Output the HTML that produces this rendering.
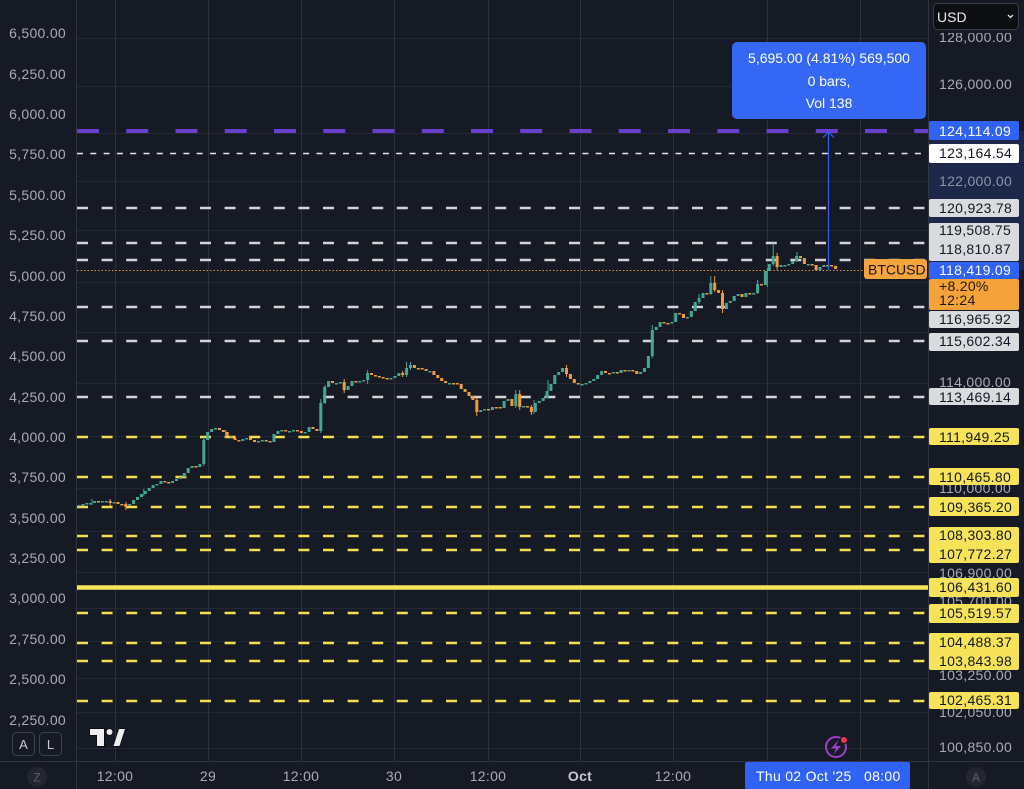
<!DOCTYPE html>
<html><head><meta charset="utf-8"><style>
html,body{margin:0;padding:0;background:#161a25;overflow:hidden;}
svg{display:block;}
text{font-family:"Liberation Sans",sans-serif;}
</style></head><body>
<svg width="1024" height="789" viewBox="0 0 1024 789" xmlns="http://www.w3.org/2000/svg">
<rect width="1024" height="789" fill="#161a25"/>
<!-- navy band on price axis -->
<rect x="929" y="131" width="95" height="139" fill="#1c2749"/>
<!-- horizontal grid -->
<g stroke="#242834" stroke-width="1">
<line x1="77" x2="928" y1="38.5" y2="38.5"/><line x1="77" x2="928" y1="86.5" y2="86.5"/>
<line x1="77" x2="928" y1="133.5" y2="133.5"/><line x1="77" x2="928" y1="181.5" y2="181.5"/>
<line x1="77" x2="928" y1="230.5" y2="230.5"/><line x1="77" x2="928" y1="282.5" y2="282.5"/>
<line x1="77" x2="928" y1="332.5" y2="332.5"/><line x1="77" x2="928" y1="383.5" y2="383.5"/>
<line x1="77" x2="928" y1="436.5" y2="436.5"/><line x1="77" x2="928" y1="488.5" y2="488.5"/>
<line x1="77" x2="928" y1="531.5" y2="531.5"/><line x1="77" x2="928" y1="572.5" y2="572.5"/>
<line x1="77" x2="928" y1="608.5" y2="608.5"/><line x1="77" x2="928" y1="641.5" y2="641.5"/>
<line x1="77" x2="928" y1="678.5" y2="678.5"/><line x1="77" x2="928" y1="712.5" y2="712.5"/>
<line x1="77" x2="928" y1="748.5" y2="748.5"/>
</g>
<!-- vertical grid -->
<g stroke="#2d313c" stroke-width="1">
<line x1="115.5" x2="115.5" y1="0" y2="761"/><line x1="208.5" x2="208.5" y1="0" y2="761"/>
<line x1="301.5" x2="301.5" y1="0" y2="761"/><line x1="394.5" x2="394.5" y1="0" y2="761"/>
<line x1="488.5" x2="488.5" y1="0" y2="761"/><line x1="580.5" x2="580.5" y1="0" y2="761"/>
<line x1="673.5" x2="673.5" y1="0" y2="761"/><line x1="767.5" x2="767.5" y1="0" y2="761"/>
<line x1="860.5" x2="860.5" y1="0" y2="761"/>
</g>
<!-- borders -->
<g stroke="#30343f" stroke-width="1">
<line x1="76.5" x2="76.5" y1="0" y2="789"/>
<line x1="928.5" x2="928.5" y1="0" y2="789"/>
<line x1="0" x2="1024" y1="761.5" y2="761.5"/>
</g>

<!-- price level lines -->
<line x1="77" x2="928" y1="131" y2="131" stroke="#6a3fcc" stroke-width="4" stroke-dasharray="22 27.25"/>
<line x1="77" x2="928" y1="153.5" y2="153.5" stroke="#e6e6e6" stroke-width="1.5" stroke-dasharray="6 7.3"/>
<g stroke="#d4d4d6" stroke-width="2.5" stroke-dasharray="11 13.6">
<line x1="77" x2="928" y1="208" y2="208"/><line x1="77" x2="928" y1="243" y2="243"/>
<line x1="77" x2="928" y1="260" y2="260"/><line x1="77" x2="928" y1="307" y2="307"/>
<line x1="77" x2="928" y1="341" y2="341"/><line x1="77" x2="928" y1="397" y2="397"/>
</g>
<g stroke="#f3df4f" stroke-width="2.5" stroke-dasharray="11 13.6">
<line x1="77" x2="928" y1="437" y2="437"/><line x1="77" x2="928" y1="477" y2="477"/>
<line x1="77" x2="928" y1="507" y2="507"/><line x1="77" x2="928" y1="536" y2="536"/>
<line x1="77" x2="928" y1="550" y2="550"/><line x1="77" x2="928" y1="613" y2="613"/>
<line x1="77" x2="928" y1="643" y2="643"/><line x1="77" x2="928" y1="661" y2="661"/>
<line x1="77" x2="928" y1="701" y2="701"/>
</g>
<line x1="77" x2="928" y1="587.5" y2="587.5" stroke="#f7e45a" stroke-width="4.5"/>
<line x1="77" x2="864" y1="270.5" y2="270.5" stroke="#e0933a" stroke-width="1" stroke-dasharray="1.5 2"/>

<!-- wicks -->
<path fill="none" stroke="#45a596" stroke-width="1" d="M203.8 437V466M320.8 399V433M652.3 325V358M710.8 276V295M773.2 243V266M406.6 362V377M515.8 390V408M367.6 370V384M325 385V404M699 294V304M767.4 268V287M797 252V262M757.6 280V294M548 380V393M143.8 489V496M92 499V505M410.5 362V370M534 400V414"/>
<path fill="none" stroke="#ef9c3c" stroke-width="1" d="M519.7 390V410M476.8 398V416M344.2 379V393M722.5 290V313M777.1 253V270M566.5 365V377M714.7 276V292M531.4 405V415M126 502V510M225.7 430V438M110.2 499V506M402.7 371V377"/>

<!-- green candles -->
<g fill="#45a596">
<rect x="77.5" y="505" width="3" height="1.5"/><rect x="81.4" y="504" width="3" height="1.5"/><rect x="85.3" y="503" width="3" height="1.5"/><rect x="89.2" y="503" width="3" height="1.5"/><rect x="93.1" y="501" width="3" height="2"/><rect x="100.9" y="501" width="3" height="1.5"/><rect x="104.8" y="501" width="3" height="1.5"/><rect x="112.6" y="502" width="3" height="1.5"/><rect x="128.2" y="504" width="3" height="2"/><rect x="132.1" y="500" width="3" height="4"/><rect x="136" y="497" width="3" height="3"/><rect x="139.9" y="494" width="3" height="3"/><rect x="143.8" y="491" width="3" height="3"/><rect x="147.7" y="488" width="3" height="3"/><rect x="151.6" y="485" width="3" height="3"/><rect x="155.5" y="484" width="3" height="1.5"/><rect x="159.4" y="481" width="3" height="3"/><rect x="171.1" y="481" width="3" height="2"/><rect x="175" y="479" width="3" height="2"/><rect x="178.9" y="477" width="3" height="2"/><rect x="182.8" y="473" width="3" height="4"/><rect x="186.7" y="468" width="3" height="5"/><rect x="190.6" y="466" width="3" height="2"/><rect x="198.4" y="464" width="3" height="3"/><rect x="202.3" y="440" width="3" height="24"/><rect x="206.2" y="432" width="3" height="8"/><rect x="210.1" y="429" width="3" height="3"/><rect x="214" y="428" width="3" height="1.5"/><rect x="241.3" y="439" width="3" height="2"/><rect x="245.2" y="438" width="3" height="1.5"/><rect x="256.9" y="441" width="3" height="1.5"/><rect x="260.8" y="440" width="3" height="1.5"/><rect x="272.5" y="434" width="3" height="8"/><rect x="276.4" y="431" width="3" height="3"/><rect x="280.3" y="430" width="3" height="1.5"/><rect x="288.1" y="431" width="3" height="1.5"/><rect x="292" y="430" width="3" height="1.5"/><rect x="303.7" y="432" width="3" height="1.5"/><rect x="307.6" y="427" width="3" height="5"/><rect x="319.3" y="403" width="3" height="28"/><rect x="323.2" y="387" width="3" height="16"/><rect x="327.1" y="381" width="3" height="6"/><rect x="334.9" y="383" width="3" height="1.5"/><rect x="338.8" y="382" width="3" height="1.5"/><rect x="346.6" y="386" width="3" height="4"/><rect x="350.5" y="381" width="3" height="5"/><rect x="358.3" y="381" width="3" height="1.5"/><rect x="362.2" y="380" width="3" height="1.5"/><rect x="366.1" y="373" width="3" height="7"/><rect x="389.5" y="378" width="3" height="1.5"/><rect x="393.4" y="376" width="3" height="2"/><rect x="397.3" y="373" width="3" height="3"/><rect x="405.1" y="368" width="3" height="7"/><rect x="409" y="365" width="3" height="3"/><rect x="428.5" y="371" width="3" height="1.5"/><rect x="448" y="383" width="3" height="1.5"/><rect x="479.2" y="410" width="3" height="2"/><rect x="483.1" y="409" width="3" height="1.5"/><rect x="490.9" y="407" width="3" height="3"/><rect x="502.6" y="401" width="3" height="7"/><rect x="506.5" y="399" width="3" height="2"/><rect x="514.3" y="394" width="3" height="12"/><rect x="522.1" y="406" width="3" height="1.5"/><rect x="533.8" y="403" width="3" height="9"/><rect x="537.7" y="401" width="3" height="2"/><rect x="541.6" y="398" width="3" height="3"/><rect x="545.5" y="391" width="3" height="7"/><rect x="549.4" y="384" width="3" height="7"/><rect x="553.3" y="375" width="3" height="9"/><rect x="557.2" y="372" width="3" height="3"/><rect x="561.1" y="368" width="3" height="4"/><rect x="580.6" y="384" width="3" height="1.5"/><rect x="584.5" y="383" width="3" height="1.5"/><rect x="588.4" y="381" width="3" height="2"/><rect x="592.3" y="379" width="3" height="2"/><rect x="596.2" y="375" width="3" height="4"/><rect x="600.1" y="371" width="3" height="4"/><rect x="611.8" y="372" width="3" height="1.5"/><rect x="619.6" y="370" width="3" height="3"/><rect x="627.4" y="370" width="3" height="1.5"/><rect x="639.1" y="372" width="3" height="2"/><rect x="643" y="368" width="3" height="4"/><rect x="646.9" y="356" width="3" height="12"/><rect x="650.8" y="330" width="3" height="26"/><rect x="654.7" y="327" width="3" height="3"/><rect x="658.6" y="322" width="3" height="5"/><rect x="670.3" y="322" width="3" height="1.5"/><rect x="674.2" y="313" width="3" height="9"/><rect x="685.9" y="317" width="3" height="1.5"/><rect x="689.8" y="311" width="3" height="6"/><rect x="693.7" y="302" width="3" height="9"/><rect x="697.6" y="298" width="3" height="4"/><rect x="701.5" y="293" width="3" height="5"/><rect x="709.3" y="283" width="3" height="11"/><rect x="724.9" y="303" width="3" height="6"/><rect x="728.8" y="301" width="3" height="2"/><rect x="732.7" y="296" width="3" height="5"/><rect x="736.6" y="294" width="3" height="2"/><rect x="744.4" y="293" width="3" height="4"/><rect x="752.2" y="293" width="3" height="1.5"/><rect x="756.1" y="284" width="3" height="9"/><rect x="763.9" y="271" width="3" height="14"/><rect x="767.8" y="264" width="3" height="7"/><rect x="771.7" y="256" width="3" height="8"/><rect x="779.5" y="265" width="3" height="2"/><rect x="783.4" y="265" width="3" height="1.5"/><rect x="787.3" y="264" width="3" height="1.5"/><rect x="791.2" y="261" width="3" height="3"/><rect x="795.1" y="256" width="3" height="5"/><rect x="806.8" y="264" width="3" height="1.5"/><rect x="818.5" y="267" width="3" height="3"/><rect x="822.4" y="265" width="3" height="2"/>
</g>
<!-- orange candles -->
<g fill="#ef9c3c">
<rect x="97" y="501" width="3" height="1.5"/><rect x="108.7" y="501" width="3" height="2"/><rect x="116.5" y="502" width="3" height="2"/><rect x="120.4" y="504" width="3" height="1.5"/><rect x="124.3" y="504" width="3" height="3"/><rect x="163.3" y="481" width="3" height="1.5"/><rect x="167.2" y="482" width="3" height="1.5"/><rect x="194.5" y="466" width="3" height="1.5"/><rect x="217.9" y="428" width="3" height="2"/><rect x="221.8" y="430" width="3" height="2"/><rect x="225.7" y="432" width="3" height="4"/><rect x="229.6" y="436" width="3" height="2"/><rect x="233.5" y="438" width="3" height="2"/><rect x="237.4" y="440" width="3" height="1.5"/><rect x="249.1" y="438" width="3" height="2"/><rect x="253" y="440" width="3" height="2"/><rect x="264.7" y="440" width="3" height="1.5"/><rect x="268.6" y="441" width="3" height="1.5"/><rect x="284.2" y="430" width="3" height="1.5"/><rect x="295.9" y="430" width="3" height="1.5"/><rect x="299.8" y="431" width="3" height="2"/><rect x="311.5" y="427" width="3" height="2"/><rect x="315.4" y="429" width="3" height="2"/><rect x="331" y="381" width="3" height="2"/><rect x="342.7" y="382" width="3" height="8"/><rect x="354.4" y="381" width="3" height="1.5"/><rect x="370" y="373" width="3" height="2"/><rect x="373.9" y="375" width="3" height="1.5"/><rect x="377.8" y="376" width="3" height="1.5"/><rect x="381.7" y="377" width="3" height="1.5"/><rect x="385.6" y="378" width="3" height="1.5"/><rect x="401.2" y="373" width="3" height="2"/><rect x="412.9" y="365" width="3" height="3"/><rect x="416.8" y="368" width="3" height="1.5"/><rect x="420.7" y="368" width="3" height="1.5"/><rect x="424.6" y="369" width="3" height="2"/><rect x="432.4" y="371" width="3" height="4"/><rect x="436.3" y="375" width="3" height="3"/><rect x="440.2" y="378" width="3" height="3"/><rect x="444.1" y="381" width="3" height="2"/><rect x="451.9" y="383" width="3" height="1.5"/><rect x="455.8" y="383" width="3" height="1.5"/><rect x="459.7" y="384" width="3" height="5"/><rect x="463.6" y="389" width="3" height="3"/><rect x="467.5" y="392" width="3" height="4"/><rect x="471.4" y="396" width="3" height="4"/><rect x="475.3" y="400" width="3" height="12"/><rect x="487" y="409" width="3" height="1.5"/><rect x="494.8" y="407" width="3" height="1.5"/><rect x="498.7" y="407" width="3" height="1.5"/><rect x="510.4" y="399" width="3" height="7"/><rect x="518.2" y="394" width="3" height="13"/><rect x="526" y="406" width="3" height="1.5"/><rect x="529.9" y="407" width="3" height="5"/><rect x="565" y="368" width="3" height="6"/><rect x="568.9" y="374" width="3" height="5"/><rect x="572.8" y="379" width="3" height="4"/><rect x="576.7" y="383" width="3" height="1.5"/><rect x="604" y="371" width="3" height="2"/><rect x="607.9" y="373" width="3" height="1.5"/><rect x="615.7" y="372" width="3" height="1.5"/><rect x="623.5" y="370" width="3" height="1.5"/><rect x="631.3" y="370" width="3" height="1.5"/><rect x="635.2" y="371" width="3" height="3"/><rect x="662.5" y="322" width="3" height="1.5"/><rect x="666.4" y="323" width="3" height="1.5"/><rect x="678.1" y="313" width="3" height="1.5"/><rect x="682" y="314" width="3" height="4"/><rect x="705.4" y="293" width="3" height="1.5"/><rect x="713.2" y="283" width="3" height="7"/><rect x="717.1" y="290" width="3" height="3"/><rect x="721" y="293" width="3" height="16"/><rect x="740.5" y="294" width="3" height="3"/><rect x="748.3" y="293" width="3" height="1.5"/><rect x="760" y="284" width="3" height="1.5"/><rect x="775.6" y="256" width="3" height="11"/><rect x="799" y="256" width="3" height="2"/><rect x="802.9" y="258" width="3" height="6"/><rect x="810.7" y="264" width="3" height="1.5"/><rect x="814.6" y="265" width="3" height="5"/><rect x="826.3" y="265" width="3" height="1.5"/><rect x="830.2" y="265" width="3" height="1.5"/><rect x="834.1" y="266" width="3" height="3"/>
</g>

<!-- measure line + tooltip -->
<line x1="828.5" x2="828.5" y1="132" y2="270" stroke="#2f62f5" stroke-width="1.2"/>
<polyline points="823,137.5 828.5,132 834,137.5" fill="none" stroke="#2f62f5" stroke-width="1.2"/>
<rect x="732" y="42" width="194" height="77" rx="5" fill="#3567f5"/>
<g fill="#ffffff" font-size="14" text-anchor="middle">
<text x="829" y="63">5,695.00 (4.81%) 569,500</text>
<text x="829" y="86">0 bars,</text>
<text x="829" y="108">Vol 138</text>
</g>

<!-- BTCUSD label -->
<rect x="864" y="259" width="63" height="20" rx="3" fill="#f5a33a"/>
<text x="868" y="274.5" font-size="14" fill="#15161a">BTCUSD</text>

<!-- left axis labels -->
<g fill="#a9acb5" font-size="14" text-anchor="end" letter-spacing="0.3">
<text x="66" y="38">6,500.00</text><text x="66" y="79">6,250.00</text><text x="66" y="119">6,000.00</text>
<text x="66" y="159">5,750.00</text><text x="66" y="200">5,500.00</text><text x="66" y="240">5,250.00</text>
<text x="66" y="281">5,000.00</text><text x="66" y="321">4,750.00</text><text x="66" y="361">4,500.00</text>
<text x="66" y="402">4,250.00</text><text x="66" y="442">4,000.00</text><text x="66" y="482">3,750.00</text>
<text x="66" y="523">3,500.00</text><text x="66" y="563">3,250.00</text><text x="66" y="603">3,000.00</text>
<text x="66" y="644">2,750.00</text><text x="66" y="684">2,500.00</text><text x="66" y="725">2,250.00</text>
</g>

<!-- right axis plain labels -->
<g fill="#a9acb5" font-size="14" letter-spacing="0.3">
<text x="939" y="42">128,000.00</text>
<text x="939" y="89">126,000.00</text>
<text x="939" y="186" fill="#8d93a8">122,000.00</text>
<text x="939" y="387">114,000.00</text>
<text x="939" y="493">110,000.00</text>
<text x="939" y="578">106,900.00</text>
<text x="939" y="606">105,700.00</text>
<text x="939" y="680">103,250.00</text>
<text x="939" y="717">102,050.00</text>
<text x="939" y="752">100,850.00</text>
</g>
<!-- cover top of price axis + USD dropdown -->
<rect x="929" y="0" width="95" height="33" fill="#161a25"/>
<rect x="933.5" y="3.5" width="85" height="26" rx="4" fill="#0d0e12" stroke="#3a3d46"/>
<text x="937" y="22" font-size="14" fill="#ececec">USD</text>
<polyline points="1008,15 1010.5,17.5 1013,15" fill="none" stroke="#e0e0e0" stroke-width="1.3"/>

<!-- right axis boxed labels -->
<rect x="929" y="121" width="90" height="19" rx="2" fill="#2f62f5"/>
<rect x="929" y="144" width="90" height="19" rx="2" fill="#ffffff"/>
<g fill="#dadbdf">
<rect x="929" y="199" width="90" height="18" rx="2"/>
<rect x="929" y="223" width="90" height="38" rx="2"/>
<rect x="929" y="311" width="90" height="17" rx="2"/>
<rect x="929" y="333" width="90" height="18" rx="2"/>
<rect x="929" y="388" width="90" height="17" rx="2"/>
</g>
<rect x="929" y="262" width="90" height="17" rx="2" fill="#2f62f5"/>
<rect x="929" y="279" width="90" height="31" rx="2" fill="#f5a23a"/>
<g fill="#f7e35a">
<rect x="929" y="428" width="90" height="17" rx="2"/>
<rect x="929" y="468" width="90" height="17" rx="2"/>
<rect x="929" y="497" width="90" height="19" rx="2"/>
<rect x="929" y="527" width="90" height="36" rx="2"/>
<rect x="929" y="578" width="90" height="19" rx="2"/>
<rect x="929" y="604" width="90" height="19" rx="2"/>
<rect x="929" y="633" width="90" height="37" rx="2"/>
<rect x="929" y="692" width="90" height="17" rx="2"/>
</g>
<g font-size="14" letter-spacing="0.3" fill="#131722">
<text x="939" y="136" fill="#ffffff">124,114.09</text>
<text x="939" y="158">123,164.54</text>
<text x="939" y="213">120,923.78</text>
<text x="939" y="235">119,508.75</text>
<text x="939" y="254">118,810.87</text>
<text x="939" y="275" fill="#ffffff">118,419.09</text>
<text x="939" y="291" fill="#1e1a10">+8.20%</text>
<text x="939" y="305" fill="#1e1a10">12:24</text>
<text x="939" y="324">116,965.92</text>
<text x="939" y="346">115,602.34</text>
<text x="939" y="402">113,469.14</text>
<text x="939" y="442">111,949.25</text>
<text x="939" y="482">110,465.80</text>
<text x="939" y="512">109,365.20</text>
<text x="939" y="540">108,303.80</text>
<text x="939" y="559">107,772.27</text>
<text x="939" y="592">106,431.60</text>
<text x="939" y="618">105,519.57</text>
<text x="939" y="647">104,488.37</text>
<text x="939" y="666">103,843.98</text>
<text x="939" y="705">102,465.31</text>
</g>

<!-- A / L buttons -->
<rect x="12.5" y="732.5" width="22" height="23" rx="4" fill="none" stroke="#3d414c"/>
<rect x="39.5" y="732.5" width="22" height="23" rx="4" fill="none" stroke="#3d414c"/>
<text x="23.5" y="749" font-size="13" fill="#c8cad0" text-anchor="middle">A</text>
<text x="50.5" y="749" font-size="13" fill="#c8cad0" text-anchor="middle">L</text>

<!-- TV logo -->
<g fill="#eeeeee" stroke="#050505" stroke-width="1.2" paint-order="stroke">
<path d="M90 729H104V746H97V735H90Z"/>
<circle cx="109.5" cy="732" r="3"/>
<path d="M113.5 746L119 729H125L119.5 746Z"/>
</g>

<!-- lightning icon -->
<circle cx="836" cy="747" r="10" fill="none" stroke="#9b3fc4" stroke-width="2"/>
<path d="M838.5 740L831 748.5H836L833.5 754.5L841 746H836Z" fill="#9b3fc4"/>
<circle cx="844" cy="740" r="3.5" fill="#f23645" stroke="#161a25" stroke-width="1"/>

<!-- bottom axis -->
<g fill="#a9acb5" font-size="14" text-anchor="middle" letter-spacing="0.3">
<text x="115" y="781">12:00</text>
<text x="208" y="781">29</text>
<text x="301" y="781">12:00</text>
<text x="394" y="781">30</text>
<text x="488" y="781">12:00</text>
<text x="580" y="781" font-weight="bold" fill="#c8cad0">Oct</text>
<text x="673" y="781">12:00</text>
</g>
<rect x="745" y="762" width="165" height="27" rx="2" fill="#2f62f5"/>
<text x="756" y="781" font-size="14" fill="#ffffff" letter-spacing="0.3">Thu 02 Oct '25</text>
<text x="864" y="781" font-size="14" fill="#ffffff" letter-spacing="0.3">08:00</text>

<circle cx="37" cy="777" r="10" fill="#22262f"/>
<text x="37" y="781.5" font-size="12" fill="#5d606b" text-anchor="middle">Z</text>
<circle cx="976" cy="777" r="10" fill="#22262f"/>
<text x="976" y="781.5" font-size="12" fill="#5d606b" text-anchor="middle">A</text>
</svg>
</body></html>
